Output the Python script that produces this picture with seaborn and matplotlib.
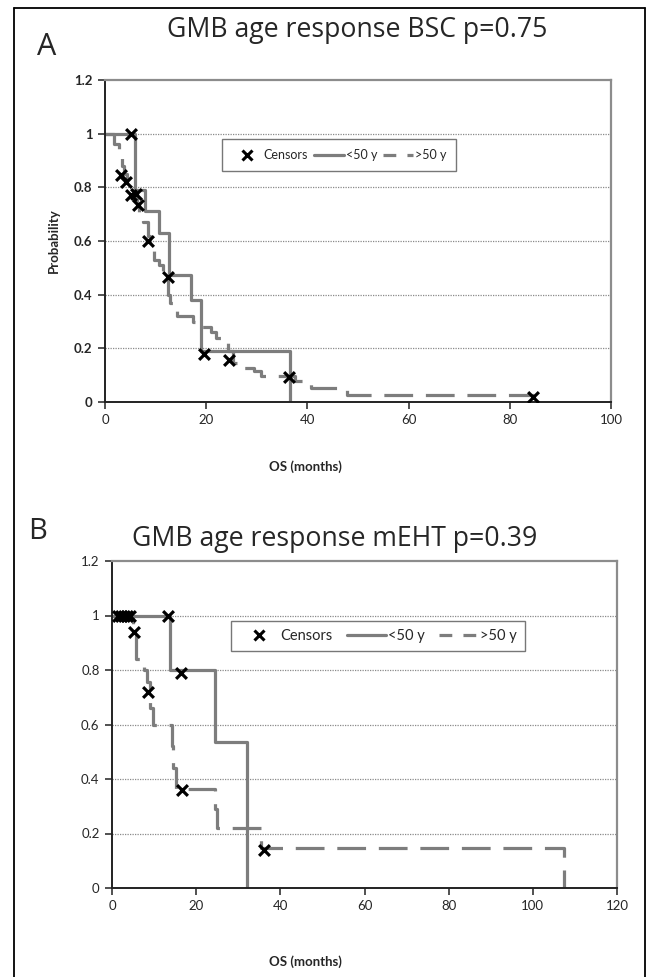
import numpy as np
import pandas as pd
import matplotlib
matplotlib.use("Agg")
import matplotlib.pyplot as plt
from matplotlib.lines import Line2D
import seaborn as sns

# --- panel A (BSC) --------------------------------------------------------
a_young_t = [0, 5.9, 7.9, 10.6, 12.6, 17.0, 19.0, 36.5]
a_young_p = [1.0, 0.79, 0.71, 0.63, 0.475, 0.38, 0.19, 0.0]

a_old_t = [0, 1.8, 2.8, 3.3, 3.8, 4.4, 5.4, 6.4, 6.8, 7.5, 8.4, 8.9, 9.6, 10.6, 11.4,
           12.4, 12.9, 13.6, 14.3, 17.3, 18.3, 21.0, 22.0, 23.4, 24.4, 25.3, 26.7,
           29.4, 30.8, 37.5, 40.8, 47.8, 84.8]
a_old_p = [1.0, 0.96, 0.92, 0.88, 0.85, 0.82, 0.79, 0.74, 0.70, 0.67, 0.62, 0.57, 0.53,
           0.51, 0.48, 0.40, 0.37, 0.35, 0.32, 0.30, 0.28, 0.26, 0.24, 0.22, 0.19, 0.145,
           0.127, 0.115, 0.097, 0.078, 0.053, 0.025, 0.025]

a_cens_t = [5.2, 3.2, 4.2, 5.2, 6.2, 6.5, 8.4, 12.4, 19.5, 24.6, 36.3, 84.5]
a_cens_p = [1.0, 0.845, 0.82, 0.77, 0.775, 0.735, 0.60, 0.465, 0.18, 0.157, 0.095, 0.02]

# --- panel B (mEHT) -------------------------------------------------------
b_young_t = [0, 13.9, 24.4, 32.0]
b_young_p = [1.0, 0.80, 0.535, 0.0]

b_old_t = [0, 4.9, 5.8, 7.5, 8.2, 9.0, 9.8, 14.3, 14.6, 15.1, 24.4, 25.0, 35.5, 107.5]
b_old_p = [1.0, 0.94, 0.84, 0.80, 0.755, 0.66, 0.60, 0.52, 0.44, 0.365, 0.29, 0.22,
           0.146, 0.0]

b_cens_t = [1.5, 2.2, 2.9, 3.6, 4.3, 5.3, 13.4, 16.4, 8.5, 16.7, 36.1]
b_cens_p = [1.0, 1.0, 1.0, 1.0, 1.0, 0.94, 1.0, 0.79, 0.72, 0.36, 0.14]

legend_labels = ["Censors", "<50 y", ">50 y"]
y_ticks = [0, 0.2, 0.4, 0.6, 0.8, 1, 1.2]
y_ticklabels = ["0", "0.2", "0.4", "0.6", "0.8", "1", "1.2"]

sns.set_style("white")
plt.rcParams["font.family"] = ["Lato", "DejaVu Sans"]

GREY = "#7d7d7d"
LW = 2.3
DASH = (9, 4)

fig = plt.figure(figsize=(6.49, 9.77), dpi=100)


def km_panel(ax, yt, yp, ot, op, ct, cp, xmax, xstep, tick_bold, leg_at, leg_fs,
             hlen, colsp, bpad):
    sns.lineplot(x=yt, y=yp, ax=ax, drawstyle="steps-post", color=GREY, lw=LW,
                 estimator=None, sort=False)
    sns.lineplot(x=ot, y=op, ax=ax, drawstyle="steps-post", color=GREY, lw=LW,
                 estimator=None, sort=False, dashes=False, linestyle=(0, DASH))
    sns.scatterplot(x=ct, y=cp, ax=ax, marker="x", color="black", s=60,
                    linewidth=2.3, zorder=5)
    ax.set_xlim(0, xmax)
    ax.set_ylim(0, 1.2)
    ax.set_xticks(np.arange(0, xmax + 1, xstep))
    ax.set_yticks(y_ticks)
    ax.set_yticklabels(y_ticklabels)
    for yv in y_ticks[1:-1]:
        ax.axhline(yv, color="#8a8a8a", lw=0.9, ls=(0, (1, 1)), zorder=0)
    for s in ["top", "right"]:
        ax.spines[s].set_color("#8c8c8c")
        ax.spines[s].set_linewidth(1.6)
    for s in ["left", "bottom"]:
        ax.spines[s].set_color("#222222")
        ax.spines[s].set_linewidth(1.4)
    ax.tick_params(axis="both", direction="out", length=5, width=1.2,
                   color="#333333", labelsize=9.5, pad=4)
    ax.tick_params(axis="y", left=True)
    ax.tick_params(axis="x", bottom=True)
    if tick_bold:
        for lab in ax.get_yticklabels():
            lab.set_fontweight("bold")
    handles = [
        Line2D([], [], ls="none", marker="x", color="black", ms=7, mew=2.2),
        Line2D([], [], color=GREY, lw=LW),
        Line2D([], [], color=GREY, lw=LW, ls=(0, (4, 3.5))),
    ]
    leg = ax.legend(handles, legend_labels, ncol=3, loc="upper left",
                    bbox_to_anchor=leg_at, borderaxespad=0, fontsize=leg_fs,
                    frameon=True, fancybox=False, handlelength=hlen,
                    handletextpad=0.1, columnspacing=colsp, borderpad=bpad)
    leg.get_frame().set_edgecolor("#555555")
    leg.get_frame().set_linewidth(1.0)
    ax.set_xlabel("")


ax_a = fig.add_axes([105 / 649, 1 - 402 / 977, 506 / 649, 322 / 977])
km_panel(ax_a, a_young_t, a_young_p, a_old_t, a_old_p, a_cens_t, a_cens_p,
         100, 20, True, (0.232, 0.817), 9, 2.4, 0.5, 0.8)
ax_a.set_ylabel("Probability", fontsize=9.5, fontweight="bold", labelpad=10)

ax_b = fig.add_axes([112 / 649, 1 - 888 / 977, 505 / 649, 327 / 977])
km_panel(ax_b, b_young_t, b_young_p, b_old_t, b_old_p, b_cens_t, b_cens_p,
         120, 20, False, (0.236, 0.817), 10.5, 2.7, 1.0, 0.55)
ax_b.set_ylabel("")

# titles, panel letters and x labels as in the figure layout
fig.text(357 / 649, 1 - 37 / 977, "GMB age response BSC p=0.75", ha="center",
         va="baseline", fontsize=19.2, family=["Open Sans", "DejaVu Sans"])
fig.text(37 / 649, 1 - 55 / 977, "A", ha="left", va="baseline", fontsize=22,
         family=["Open Sans", "DejaVu Sans"])
fig.text(305 / 649, 1 - 467 / 977, "OS (months)", ha="center", va="center",
         fontsize=9.5, fontweight="bold")

fig.text(335 / 649, 1 - 546 / 977, "GMB age response mEHT p=0.39", ha="center",
         va="baseline", fontsize=19.2, family=["Open Sans", "DejaVu Sans"])
fig.text(28 / 649, 1 - 539 / 977, "B", ha="left", va="baseline", fontsize=21,
         family=["Open Sans", "DejaVu Sans"])
fig.text(305 / 649, 1 - 962 / 977, "OS (months)", ha="center", va="center",
         fontsize=9.5, fontweight="bold")

# outer frame of the figure
for xs, ys in [((14, 14), (-5, 8)), ((14, 645), (8, 8)), ((645, 645), (8, -5))]:
    fig.add_artist(Line2D([x / 649 for x in xs], [1 - y / 977 if y >= 0 else 0 for y in ys],
                          color="black", lw=1.3, transform=fig.transFigure))

fig.savefig("out.png", dpi=100)
